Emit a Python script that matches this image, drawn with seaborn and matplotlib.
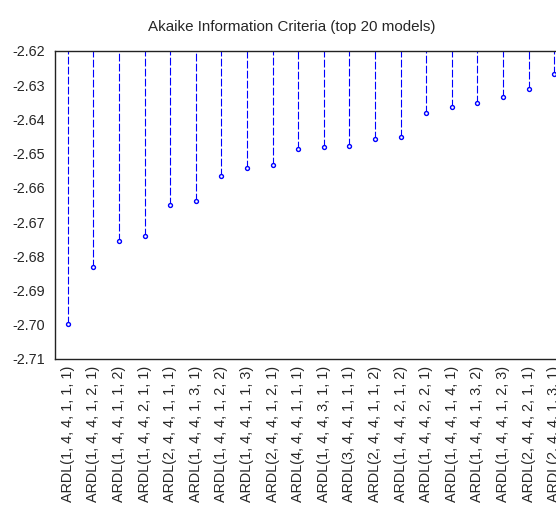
import pandas as pd
import matplotlib
matplotlib.use("Agg")
import matplotlib.pyplot as plt
from matplotlib.ticker import FixedLocator
import seaborn as sns

# modelos ARDL ordenados por criterio de Akaike
models = [
    "ARDL(1, 4, 4, 1, 1, 1)", "ARDL(1, 4, 4, 1, 2, 1)", "ARDL(1, 4, 4, 1, 1, 2)",
    "ARDL(1, 4, 4, 2, 1, 1)", "ARDL(2, 4, 4, 1, 1, 1)", "ARDL(1, 4, 4, 1, 3, 1)",
    "ARDL(1, 4, 4, 1, 2, 2)", "ARDL(1, 4, 4, 1, 1, 3)", "ARDL(2, 4, 4, 1, 2, 1)",
    "ARDL(4, 4, 4, 1, 1, 1)", "ARDL(1, 4, 4, 3, 1, 1)", "ARDL(3, 4, 4, 1, 1, 1)",
    "ARDL(2, 4, 4, 1, 1, 2)", "ARDL(1, 4, 4, 2, 1, 2)", "ARDL(1, 4, 4, 2, 2, 1)",
    "ARDL(1, 4, 4, 1, 4, 1)", "ARDL(1, 4, 4, 1, 3, 2)", "ARDL(1, 4, 4, 1, 2, 3)",
    "ARDL(2, 4, 4, 2, 1, 1)", "ARDL(2, 4, 4, 1, 3, 1)",
]
aic = [
    -2.6997, -2.6832, -2.6755, -2.6741, -2.6651, -2.6637, -2.6566, -2.6541,
    -2.6532, -2.6487, -2.6480, -2.6479, -2.6456, -2.6451, -2.6381, -2.6364,
    -2.6353, -2.6335, -2.6310, -2.6268,
]
y_ticks = [-2.62, -2.63, -2.64, -2.65, -2.66, -2.67, -2.68, -2.69, -2.70, -2.71]

df = pd.DataFrame({"Modelo": models, "AIC": aic})
df["pos"] = range(len(df))

sns.set_style("white")
plt.rcParams["font.family"] = ["Liberation Sans", "DejaVu Sans"]
plt.rcParams["font.size"] = 10.4

fig = plt.figure(figsize=(5.56, 5.07), dpi=100)
# el grafico original esta recortado por la derecha
ax = fig.add_axes([55 / 556, 1 - 359 / 507, 512 / 556, 308 / 507])

top = max(y_ticks)
ax.vlines(df["pos"], df["AIC"], top, colors="#0000ff", linewidth=0.8,
          linestyles=(0, (7, 2.0)))
sns.scatterplot(data=df, x="pos", y="AIC", ax=ax, marker="o", s=8,
                facecolor="white", edgecolor="#0000ff", linewidth=1.0, zorder=3)

ax.set_ylim(min(y_ticks), top)
ax.set_xlim(-0.5, len(df) - 0.5)
ax.set_yticks(y_ticks)
ax.set_yticklabels([f"{v:.2f}" for v in y_ticks], fontsize=10.4)
ax.set_xticks(df["pos"])
ax.set_xticklabels(df["Modelo"], rotation=90, fontsize=10.4)
ax.xaxis.set_minor_locator(FixedLocator([p - 0.5 for p in range(len(df) + 1)]))
ax.tick_params(axis="x", which="major", length=0, pad=5)
ax.tick_params(axis="x", which="minor", length=5, width=1, color="#333333", direction="out")
ax.tick_params(axis="y", length=5, width=1, color="#333333", direction="out", pad=2)
ax.set_xlabel("")
ax.set_ylabel("")
for side in ["left", "bottom", "top"]:
    ax.spines[side].set_color("#222222")
    ax.spines[side].set_linewidth(1.0)
ax.spines["right"].set_visible(False)

fig.text(292 / 556, 1 - 27 / 507, "Akaike Information Criteria (top 20 models)",
         ha="center", va="center", fontsize=10.9)

fig.savefig("out.png", dpi=100)
